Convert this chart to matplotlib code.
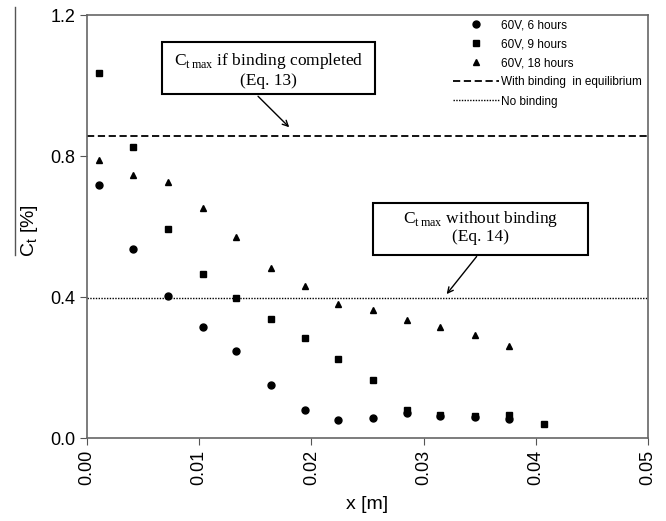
import matplotlib
matplotlib.use("Agg")
import matplotlib.pyplot as plt
from matplotlib.patches import Rectangle
from matplotlib.lines import Line2D

plt.rcParams['font.family'] = ['Liberation Sans', 'DejaVu Sans']
plt.rcParams['mathtext.fontset'] = 'custom'
plt.rcParams['mathtext.rm'] = 'Liberation Sans'

# pozice x [m]
x = [0.0011, 0.0041, 0.0072, 0.0103, 0.0133, 0.0164, 0.0194,
     0.0224, 0.0255, 0.0285, 0.0315, 0.0346, 0.0376, 0.0407]

# koncentrace [%]
c_6h = [0.717, 0.537, 0.402, 0.314, 0.247, 0.149, 0.080,
        0.052, 0.056, 0.070, 0.063, 0.061, 0.054]
c_9h = [1.035, 0.825, 0.594, 0.465, 0.398, 0.339, 0.285,
        0.225, 0.165, 0.080, 0.064, 0.062, 0.066, 0.039]
c_18h = [0.788, 0.747, 0.726, 0.652, 0.570, 0.481, 0.432,
         0.380, 0.362, 0.336, 0.315, 0.291, 0.261]

c_binding = 0.857
c_no_binding = 0.398

fig = plt.figure(figsize=(6.66, 5.21), dpi=100)
ax = fig.add_axes([0.1306, 0.1593, 0.8424, 0.8119])

ax.plot(x[:len(c_6h)], c_6h, 'o', color='black', ms=5, label='60V, 6 hours')
ax.plot(x[:len(c_9h)], c_9h, 's', color='black', ms=5, label='60V, 9 hours')
ax.plot(x[:len(c_18h)], c_18h, '^', color='black', ms=5, label='60V, 18 hours')
ax.axhline(c_binding, color='black', lw=1.3, ls=(0, (4, 2)),
           label='With binding  in equilibrium')
ax.axhline(c_no_binding, color='black', lw=1.0, ls=(0, (1, 1)),
           label='No binding')

ax.set_xlim(0, 0.05)
ax.set_ylim(0, 1.2)
ax.set_xticks([0, 0.01, 0.02, 0.03, 0.04, 0.05])
ax.set_xticklabels(['0.00', '0.01', '0.02', '0.03', '0.04', '0.05'], rotation=90)
ax.set_yticks([0, 0.4, 0.8, 1.2])
ax.set_yticklabels(['0.0', '0.4', '0.8', '1.2'])
ax.tick_params(labelsize=13, length=5, color='#555555', direction='out')
for s in ax.spines.values():
    s.set_color('#666666')
    s.set_linewidth(1.2)

ax.set_xlabel('x [m]', fontsize=14, labelpad=8)
ax.set_ylabel('C$_\\mathrm{t}$ [%]', fontsize=14)
ax.yaxis.set_label_coords(-0.084, 0.49)

leg = ax.legend(loc='upper left', bbox_to_anchor=(0.652, 0.99), frameon=False,
                fontsize=8.5, handlelength=3.9, handletextpad=0.2,
                labelspacing=0.6, borderpad=0, borderaxespad=0)

# rámečky s popisky
serif = ['Liberation Serif', 'DejaVu Serif']
ax.add_patch(Rectangle((0.00666, 0.975), 0.01901, 0.148, fill=False,
                       lw=1.5, ec='black', zorder=5))
ax.text(0.01617, 1.069, 'C$_\\mathregular{t\\,max}$ if binding completed',
        family=serif, fontsize=12.5, ha='center', va='center')
ax.text(0.01617, 1.012, '(Eq. 13)', family=serif, fontsize=12.5,
        ha='center', va='center')
ax.annotate('', xy=(0.0182, 0.876), xytext=(0.01507, 0.975),
            arrowprops=dict(arrowstyle='->', color='black', lw=1))

ax.add_patch(Rectangle((0.02546, 0.520), 0.01919, 0.147, fill=False,
                       lw=1.5, ec='black', zorder=5))
ax.text(0.03505, 0.620, 'C$_\\mathregular{t\\,max}$ without binding',
        family=serif, fontsize=12.5, ha='center', va='center')
ax.text(0.03505, 0.569, '(Eq. 14)', family=serif, fontsize=12.5,
        ha='center', va='center')
ax.annotate('', xy=(0.0319, 0.402), xytext=(0.03488, 0.521),
            arrowprops=dict(arrowstyle='->', color='black', lw=1))

# svislá čára vlevo od popisku osy y
fig.add_artist(Line2D([0.0225, 0.0225], [0.9866, 0.5106], color='#555555', lw=1))

plt.savefig('out.png', dpi=100)
